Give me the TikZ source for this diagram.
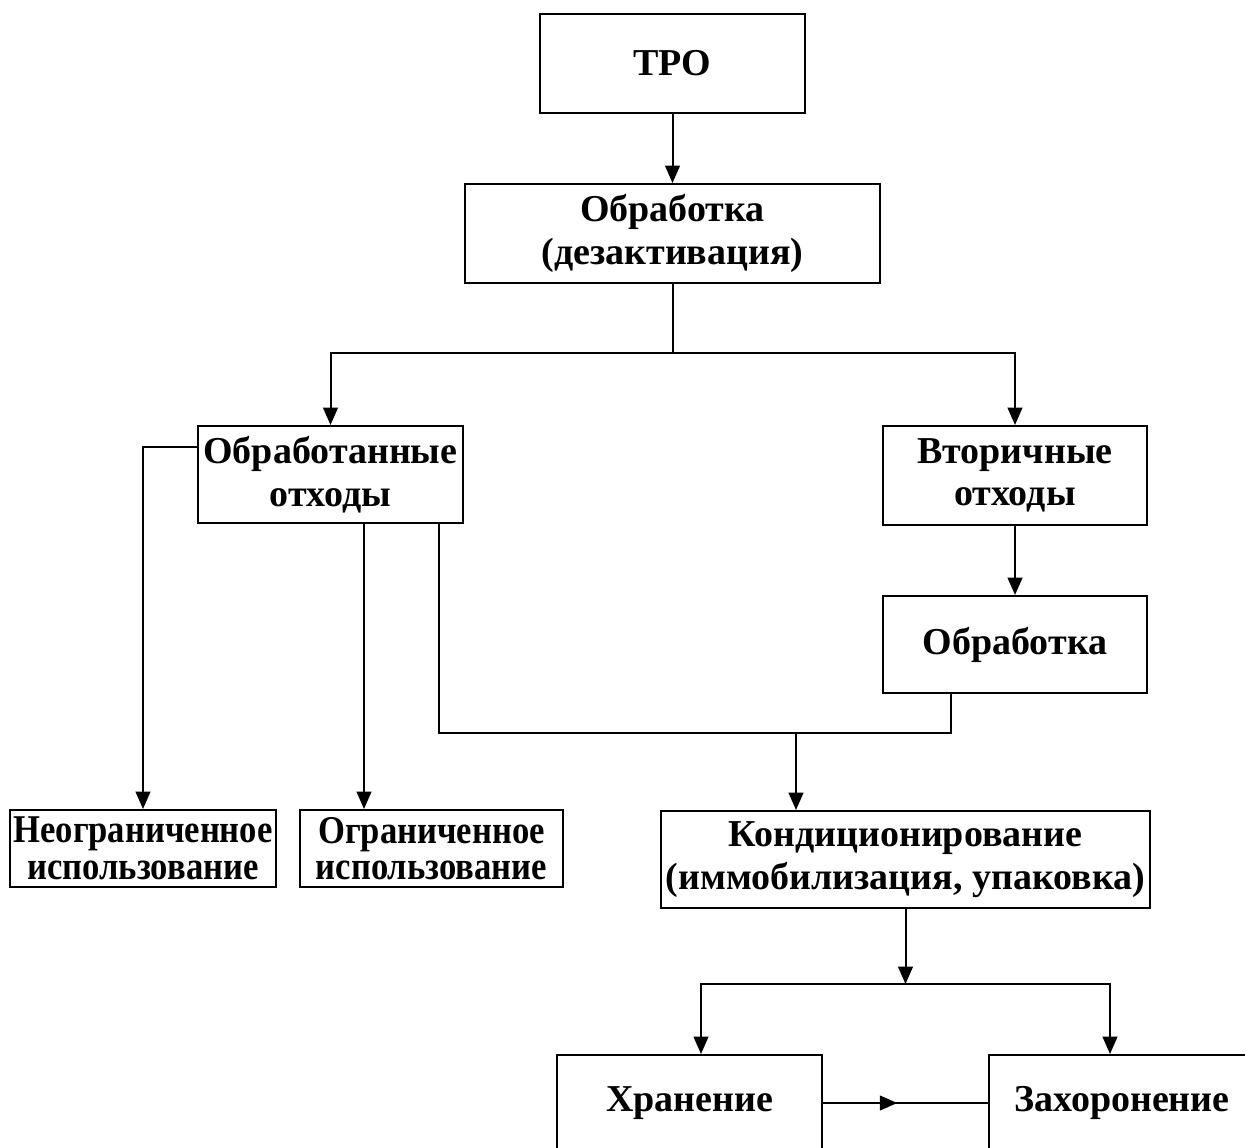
\documentclass[tikz,border=0pt]{standalone}
\usepackage{fontspec}
\setmainfont{Liberation Serif}
\newfontfamily\condfont[FakeStretch=0.88]{Liberation Serif}
\usetikzlibrary{arrows.meta,calc,decorations.markings}
\begin{document}
\begin{tikzpicture}[x=0.75pt,y=-0.75pt,
  bx/.style={draw, line width=1.5pt, rectangle, inner sep=0pt, align=center,
    font=\bfseries\fontsize{28.5}{32}\selectfont},
  sz/.style 2 args={minimum width=#1*0.75pt, minimum height=#2*0.75pt},
  tight/.style={font=\condfont\bfseries\fontsize{29.5}{27.5}\selectfont},
  conn/.style={line width=1.5pt},
  arr/.style={-{Triangle[length=13pt,width=11pt]}},
  midarr/.style={postaction={decorate}, decoration={markings,
    mark=at position 0.45 with {\arrow{Triangle[length=13pt,width=11pt]}}}}]
\useasboundingbox (0,0) rectangle (1245,1148);
\clip (0,0) rectangle (1245,1148);

\node[bx, sz={265}{99}] (tro) at (672.5,63.5) {ТРО};
\node[bx, sz={415}{99}] (obr1) at (672.5,233.5) {Обработка\\(дезактивация)};
\node[bx, sz={265}{97}] (obrot) at (330.5,474.5) {Обработанные\\отходы};
\node[bx, sz={264}{99}] (vtor) at (1015,475.5) {Вторичные\\отходы};
\node[bx, sz={264}{97}] (obr2) at (1015,644.5) {Обработка};
\node[bx, tight, sz={266}{77}] (neogr) at (143,848.5) {Неограниченное\\использование};
\node[bx, tight, sz={263}{77}] (ogr) at (431.5,848.5) {Ограниченное\\использование};
\node[bx, sz={489}{97}] (kond) at (905.5,859.5) {Кондиционирование\\(иммобилизация, упаковка)};
\node[bx, sz={265}{96}] (khr) at (689.5,1103) {Хранение};
\node[bx, sz={266}{96}] (zakh) at (1122,1103) {Захоронение};

\draw[conn,arr] (tro) -- (obr1);
\coordinate (j1) at ($(obr1.south)+(0,69)$);
\draw[conn] (obr1.south) -- (j1);
\draw[conn,arr] (j1) -| (obrot.north);
\draw[conn,arr] (j1) -| (vtor.north);
\draw[conn,arr] (vtor) -- (obr2);
\draw[conn,arr] ($(obrot.west)+(0,-28)$) -| (neogr.north);
\coordinate (o1) at ($(obrot.south west)+(167,0)$);
\draw[conn,arr] (o1) -- (o1 |- ogr.north);
\coordinate (a1) at ($(obrot.south west)+(242,0)$);
\coordinate (a2) at ($(obr2.south west)+(69,0)$);
\coordinate (m) at ($(kond.north west)+(136,-77)$);
\draw[conn] (a1) |- (m) -| (a2);
\draw[conn,arr] (m) -- (m |- kond.north);
\coordinate (j2) at ($(kond.south)+(0,75)$);
\draw[conn,arr] (kond.south) -- (j2);
\draw[conn,arr] (j2) -| ($(khr.north west)+(145,0)$);
\draw[conn,arr] (j2) -| ($(zakh.north west)+(122,0)$);
\draw[conn,midarr] (khr.east) -- (zakh.west);
\end{tikzpicture}
\end{document}
